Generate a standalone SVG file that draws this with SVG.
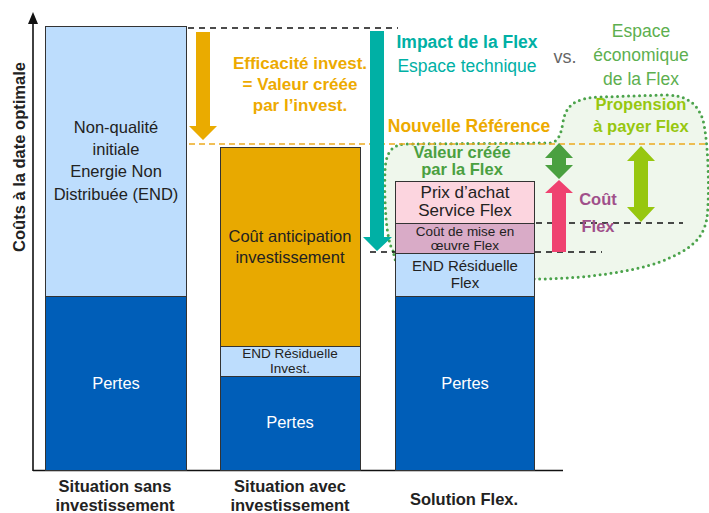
<svg xmlns="http://www.w3.org/2000/svg" width="709" height="513" viewBox="0 0 709 513">
<style>
text{font-family:"Liberation Sans",Arial,sans-serif;text-anchor:middle}
.b{font-weight:bold}
.dk{fill:#222}
.wt{fill:#fff}
.bar{stroke:#333;stroke-width:1}
.lb{fill:#BDDDFD}
.db{fill:#005EB8}
.dash{stroke:#111;stroke-width:1.3;stroke-dasharray:6 5;fill:none}
.odash{stroke:#EDAB1F;stroke-width:1.5;stroke-dasharray:6 4;fill:none}
</style>
<rect width="709" height="513" fill="#fff"/>
<g id="flex-space">
<path d="M393,251 C386,240 384,200 385,170 C386,152 392,145 405,144 L550,143 C558,142 561,135 563,122 C566,105 575,98 600,97 L665,95 C685,95 697,102 703,120 C708,140 710,190 707,218 C703,240 690,250 660,262 C630,272 590,278 540,279 L400,279 Z" fill="#EFF7EC" stroke="#4BA34B" stroke-width="3" stroke-dasharray="0 5.5" stroke-linecap="round"/>
</g>
<g id="connectors">
<line class="dash" x1="188" y1="28" x2="398" y2="28"/>
<line class="dash" x1="370" y1="252" x2="602" y2="252"/>
<line class="dash" x1="536" y1="223" x2="683" y2="223"/>
<line class="odash" x1="189" y1="144" x2="709" y2="144"/>
<polygon points="196,32 210,32 210,126 217,126 203,140 189,126 196,126" fill="#EAAB00"/>
<polygon points="370,31 384,31 384,237 392,237 377,251 363,237 370,237" fill="#00B0A5"/>
<polygon points="559,143 573,158 566,158 566,165 573,165 559,179 545,165 552,165 552,158 545,158" fill="#4AA040"/>
<polygon points="559,180 573,193 566,193 566,252 552,252 552,193 545,193" fill="#EF4270"/>
<polygon points="641,146 655,161 648,161 648,207 655,207 641,222 627,207 634,207 634,161 627,161" fill="#97C70F"/>
</g>
<g id="axes">
<line x1="33" y1="470.5" x2="563" y2="470.5" stroke="#111" stroke-width="1.6"/>
<line x1="33" y1="471" x2="33" y2="22" stroke="#111" stroke-width="1.6"/>
<polygon points="33,12 38,24 28,24" fill="#111"/>
<text class="b dk" font-size="16.5" transform="translate(25,157) rotate(-90)">Coûts à la date optimale</text>
</g>
<g id="bar1">
<rect class="bar lb" x="45.5" y="26.5" width="141" height="270"/>
<rect class="bar db" x="45.5" y="296.5" width="141" height="174"/>
<text class="dk" font-size="16.5" x="116" y="133">Non-qualité</text>
<text class="dk" font-size="16.5" x="116" y="155">initiale</text>
<text class="dk" font-size="16.5" x="116" y="177">Energie Non</text>
<text class="dk" font-size="16.5" x="116" y="200">Distribuée (END)</text>
<text class="wt" font-size="16.5" x="116" y="389">Pertes</text>
<text class="b dk" font-size="16.5" x="115" y="492">Situation sans</text>
<text class="b dk" font-size="16.5" x="115" y="511">investissement</text>
</g>
<g id="bar2">
<rect class="bar" fill="#E8A900" x="220.5" y="147.5" width="140" height="199"/>
<rect class="bar lb" x="220.5" y="346.5" width="140" height="30"/>
<rect class="bar db" x="220.5" y="376.5" width="140" height="94"/>
<text class="dk" font-size="16.5" x="290" y="242">Coût anticipation</text>
<text class="dk" font-size="16.5" x="290" y="263">investissement</text>
<text class="dk" font-size="13.5" x="290" y="358">END Résiduelle</text>
<text class="dk" font-size="13.5" x="290" y="373">Invest.</text>
<text class="wt" font-size="16.5" x="290" y="428">Pertes</text>
<text class="b dk" font-size="16.5" x="290" y="492">Situation avec</text>
<text class="b dk" font-size="16.5" x="290" y="511">investissement</text>
</g>
<g id="bar3">
<rect class="bar" fill="#FCD5DF" x="395.5" y="181.5" width="139" height="42"/>
<rect class="bar" fill="#D9ABC7" x="395.5" y="223.5" width="139" height="30"/>
<rect class="bar lb" x="395.5" y="253.5" width="139" height="43"/>
<rect class="bar db" x="395.5" y="296.5" width="139" height="174"/>
<text class="dk" font-size="17" x="465" y="198">Prix d’achat</text>
<text class="dk" font-size="17" x="465" y="216">Service Flex</text>
<text class="dk" font-size="13.5" x="465" y="236">Coût de mise en</text>
<text class="dk" font-size="13.5" x="465" y="250">œuvre Flex</text>
<text class="dk" font-size="15" x="465" y="271">END Résiduelle</text>
<text class="dk" font-size="15" x="465" y="288">Flex</text>
<text class="wt" font-size="16.5" x="465" y="389">Pertes</text>
<text class="b dk" font-size="16.5" x="464" y="505">Solution Flex.</text>
</g>
<g id="labels">
<text class="b" fill="#EDAA00" font-size="17" x="300" y="69">Efficacité invest.</text>
<text class="b" fill="#EDAA00" font-size="17" x="300" y="90">= Valeur créée</text>
<text class="b" fill="#EDAA00" font-size="17" x="300" y="111">par l’invest.</text>
<text class="b" fill="#00B0A5" font-size="17.5" x="467" y="48">Impact de la Flex</text>
<text fill="#00B0A5" font-size="17.5" x="467" y="72">Espace technique</text>
<text fill="#666" font-size="18" x="565" y="63">vs.</text>
<text fill="#5DAF4F" font-size="17.5" x="641" y="37">Espace</text>
<text fill="#5DAF4F" font-size="17.5" x="641" y="61">économique</text>
<text fill="#5DAF4F" font-size="17.5" x="641" y="85">de la Flex</text>
<text class="b" fill="#97C70F" font-size="16.5" x="641" y="110">Propension</text>
<text class="b" fill="#97C70F" font-size="16.5" x="641" y="132">à payer Flex</text>
<text class="b" fill="#EDAA00" font-size="17.5" x="469" y="132">Nouvelle Référence</text>
<text class="b" fill="#4AA040" font-size="16.5" x="462" y="158">Valeur créée</text>
<text class="b" fill="#4AA040" font-size="16.5" x="462" y="175">par la Flex</text>
<text class="b" fill="#A0508A" font-size="16.5" x="598" y="205">Coût</text>
<text class="b" fill="#A0508A" font-size="16.5" x="598" y="232">Flex</text>
</g>
</svg>
